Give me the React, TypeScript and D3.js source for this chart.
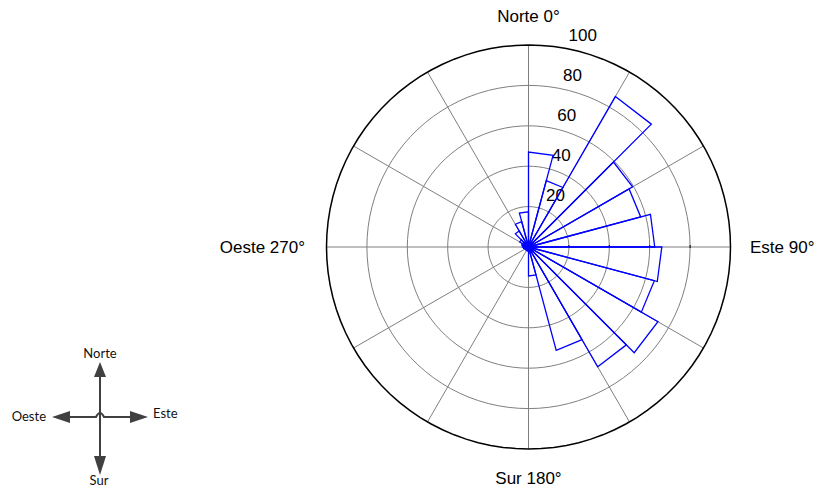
import React from "react";
import * as d3 from "d3";

// Rose diagram data: 15° bins starting at north, clockwise
const binStarts = [0, 15, 30, 45, 60, 75, 90, 105, 120, 135, 150, 165, 180, 195, 210, 225, 240, 255, 270, 285, 300, 315, 330, 345];
const binValues = [47, 34, 86, 59.5, 57.5, 62.5, 66, 64.5, 74, 68.5, 53, 14.3, 2, 1.5, 1, 1.5, 2, 2.5, 3, 3.5, 5, 9.2, 13, 17.4];
const binWidth = 15;
const ringValues = [20, 40, 60, 80];
const tickLabels = ["20", "40", "60", "80", "100"];
const tickValues = [20, 40, 60, 80, 100];
const spokeAngles = [0, 30, 60, 90, 120, 150, 180, 210, 240, 270, 300, 330];
const dirLabels = ["Norte 0°", "Este 90°", "Sur 180°", "Oeste 270°"];
const compassLabels = ["Norte", "Este", "Sur", "Oeste"];

const W = 819;
const H = 491;
const cx = 528.5;
const cy = 247;
const rMax = 202;

export default function App() {
  const r = d3.scaleLinear().domain([0, 100]).range([0, rMax]);
  const rad = (deg: number) => (deg * Math.PI) / 180;
  const px = (deg: number, v: number) => cx + r(v) * Math.sin(rad(deg));
  const py = (deg: number, v: number) => cy - r(v) * Math.cos(rad(deg));

  const ringPath = (v: number) => {
    const pts = d3.range(0, 361, 3.6).map((a) => [px(a, v), py(a, v)] as [number, number]);
    return d3.line()(pts) || "";
  };

  const wedgePath = (a0: number, v: number) => {
    const p = d3.path();
    p.moveTo(cx, cy);
    p.lineTo(px(a0, v), py(a0, v));
    p.lineTo(px(a0 + binWidth, v), py(a0 + binWidth, v));
    p.closePath();
    return p.toString();
  };

  const font = "'Liberation Sans', Arial, Helvetica, sans-serif";
  const lfont = "Lato, 'Open Sans', sans-serif";
  const ac = "#404040";
  const grid = "#7f7f7f";

  return (
    <svg width={W} height={H} style={{ position: "absolute", left: 0, top: 0, background: "#fff" }}>
      {/* grid rings */}
      {ringValues.map((v) => (
        <path key={v} d={ringPath(v)} fill="none" stroke={grid} strokeWidth={1} />
      ))}
      {/* spokes */}
      {spokeAngles.map((a) => (
        <line key={a} x1={cx} y1={cy} x2={px(a, 100)} y2={py(a, 100)} stroke={grid} strokeWidth={1} />
      ))}
      {/* ticks on east axis */}
      {ringValues.map((v) => (
        <line key={"t" + v} x1={px(90, v)} y1={cy - 2} x2={px(90, v)} y2={cy + 1} stroke="#000" strokeWidth={1} />
      ))}
      {/* outer circle */}
      <path d={ringPath(100)} fill="none" stroke="#000" strokeWidth={1.5} />
      {/* tick labels */}
      {tickValues.map((v, i) => (
        <text
          key={"l" + v}
          x={px(8, v) + 12}
          y={py(8, v) - 6}
          fontFamily={font}
          fontSize={17}
          fill="#000"
        >
          {tickLabels[i]}
        </text>
      ))}
      {/* wedges */}
      {binStarts.map((a, i) => (
        <path key={"w" + a} d={wedgePath(a, binValues[i])} fill="none" stroke="#0000ff" strokeWidth={1.3} strokeLinejoin="miter" />
      ))}
      <circle cx={cx} cy={cy} r={4.5} fill="#0000ff" />
      {/* direction labels */}
      <text x={cx} y={22} textAnchor="middle" fontFamily={font} fontSize={17}>{dirLabels[0]}</text>
      <text x={750} y={253} textAnchor="start" fontFamily={font} fontSize={17}>{dirLabels[1]}</text>
      <text x={cx} y={484} textAnchor="middle" fontFamily={font} fontSize={17}>{dirLabels[2]}</text>
      <text x={305} y={253} textAnchor="end" fontFamily={font} fontSize={17}>{dirLabels[3]}</text>

      {/* compass legend */}
      <g>
        <line x1={100} y1={376} x2={100} y2={457} stroke={ac} strokeWidth={2} />
        <path d="M100,362 L94,377 L106,377 Z" fill={ac} />
        <path d="M100,475 L94,456 L106,456 Z" fill={ac} />
        <path d="M69,417 L96,417 Q100,409 104,417 L131,417" fill="none" stroke={ac} strokeWidth={2} />
        <path d="M52,417 L70,411 L70,423 Z" fill={ac} />
        <path d="M148,417 L130,411 L130,423 Z" fill={ac} />
        <text x={100} y={358} textAnchor="middle" fontFamily={lfont} fontSize={13} fill="#111">{compassLabels[0]}</text>
        <text x={153} y={418} textAnchor="start" fontFamily={lfont} fontSize={13} fill="#111">{compassLabels[1]}</text>
        <text x={99} y={485} textAnchor="middle" fontFamily={lfont} fontSize={13} fill="#111">{compassLabels[2]}</text>
        <text x={46} y={421} textAnchor="end" fontFamily={lfont} fontSize={13} fill="#111">{compassLabels[3]}</text>
      </g>
    </svg>
  );
}
